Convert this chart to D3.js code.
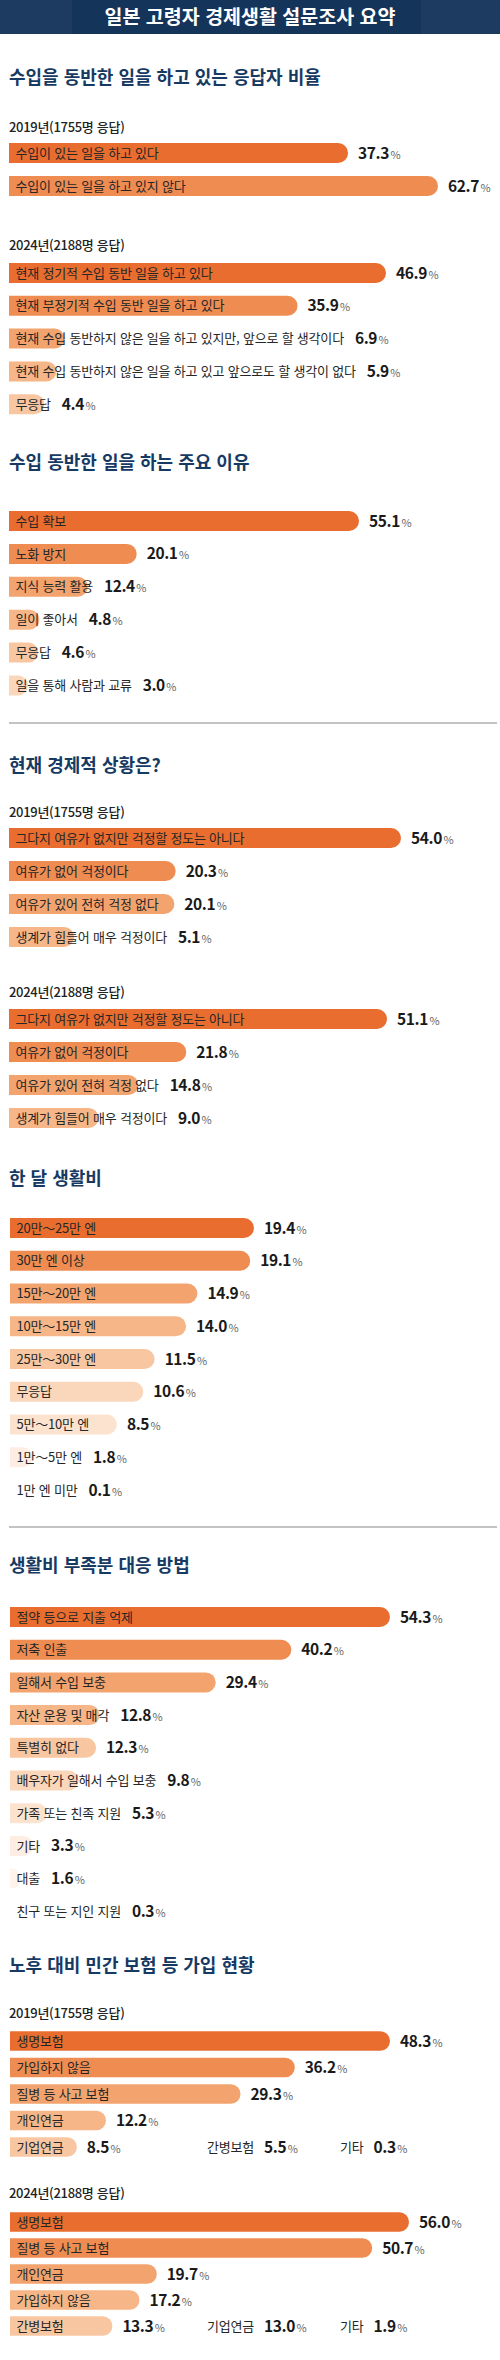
<!DOCTYPE html>
<html lang="ko">
<head>
<meta charset="utf-8">
<script src="https://cdn.jsdelivr.net/npm/d3@7/dist/d3.min.js"></script>
<style>
  html, body { margin: 0; padding: 0; background: #ffffff; }
  svg { display: block; font-family: "Noto Sans CJK KR", "Noto Sans", sans-serif; }
</style>
</head>
<body>
<script>
// ---------------- DATA ----------------
const mainTitle = "일본 고령자 경제생활 설문조사 요약";
const sectionTitles = [
  "수입을 동반한 일을 하고 있는 응답자 비율",
  "수입 동반한 일을 하는 주요 이유",
  "현재 경제적 상황은?",
  "한 달 생활비",
  "생활비 부족분 대응 방법",
  "노후 대비 민간 보험 등 가입 현황"
];
const label2019 = "2019년(1755명 응답)";
const label2024 = "2024년(2188명 응답)";

const workCats2019 = ["수입이 있는 일을 하고 있다", "수입이 있는 일을 하고 있지 않다"];
const workVals2019 = [37.3, 62.7];

const workCats2024 = [
  "현재 정기적 수입 동반 일을 하고 있다",
  "현재 부정기적 수입 동반 일을 하고 있다",
  "현재 수입 동반하지 않은 일을 하고 있지만, 앞으로 할 생각이다",
  "현재 수입 동반하지 않은 일을 하고 있고 앞으로도 할 생각이 없다",
  "무응답"
];
const workVals2024 = [46.9, 35.9, 6.9, 5.9, 4.4];

const reasonCats = ["수입 확보", "노화 방지", "지식 능력 활용", "일이 좋아서", "무응답", "일을 통해 사람과 교류"];
const reasonVals = [55.1, 20.1, 12.4, 4.8, 4.6, 3.0];

const econCats = ["그다지 여유가 없지만 걱정할 정도는 아니다", "여유가 없어 걱정이다", "여유가 있어 전혀 걱정 없다", "생계가 힘들어 매우 걱정이다"];
const econVals2019 = [54.0, 20.3, 20.1, 5.1];
const econVals2024 = [51.1, 21.8, 14.8, 9.0];

const costCats = ["20만～25만 엔", "30만 엔 이상", "15만～20만 엔", "10만～15만 엔", "25만～30만 엔", "무응답", "5만～10만 엔", "1만～5만 엔", "1만 엔 미만"];
const costVals = [19.4, 19.1, 14.9, 14.0, 11.5, 10.6, 8.5, 1.8, 0.1];

const shortCats = ["절약 등으로 지출 억제", "저축 인출", "일해서 수입 보충", "자산 운용 및 매각", "특별히 없다", "배우자가 일해서 수입 보충", "가족 또는 친족 지원", "기타", "대출", "친구 또는 지인 지원"];
const shortVals = [54.3, 40.2, 29.4, 12.8, 12.3, 9.8, 5.3, 3.3, 1.6, 0.3];

const insCats2019 = ["생명보험", "가입하지 않음", "질병 등 사고 보험", "개인연금", "기업연금"];
const insVals2019 = [48.3, 36.2, 29.3, 12.2, 8.5];
const insExtraCats2019 = ["간병보험", "기타"];
const insExtraVals2019 = [5.5, 0.3];

const insCats2024 = ["생명보험", "질병 등 사고 보험", "개인연금", "가입하지 않음", "간병보험"];
const insVals2024 = [56.0, 50.7, 19.7, 17.2, 13.3];
const insExtraCats2024 = ["기업연금", "기타"];
const insExtraVals2024 = [13.0, 1.9];

// ---------------- STYLE / LAYOUT ----------------
const W = 500, H = 2360;
const palette = ["#E96D2F", "#EF8C52", "#F3A36E", "#F6B687", "#F8C7A2", "#FAD6BB", "#FCE3D0", "#FDEDE2", "#FEF4EC", "#FFF8F3"];
const navy = "#173A63";

const layout = [
  { type: "title", text: sectionTitles[0], y: 77 },
  { type: "group", label: label2019, labelY: 127, cats: workCats2019, vals: workVals2019, y0: 153, pitch: 33, range: [207, 429], x0: 9 },
  { type: "group", label: label2024, labelY: 245, cats: workCats2024, vals: workVals2024, y0: 273, pitch: 32.8, range: [0, 377], x0: 9 },
  { type: "title", text: sectionTitles[1], y: 462 },
  { type: "group", cats: reasonCats, vals: reasonVals, y0: 521, pitch: 32.9, range: [0, 350], x0: 9 },
  { type: "sep", y: 723 },
  { type: "title", text: sectionTitles[2], y: 765 },
  { type: "group", label: label2019, labelY: 812, cats: econCats, vals: econVals2019, y0: 838, pitch: 33, range: [31, 392], x0: 9 },
  { type: "group", label: label2024, labelY: 992, cats: econCats, vals: econVals2024, y0: 1019, pitch: 33, range: [28, 378], x0: 9 },
  { type: "title", text: sectionTitles[3], y: 1178 },
  { type: "group", cats: costCats, vals: costVals, y0: 1228, pitch: 32.75, range: [0, 244], x0: 10 },
  { type: "sep", y: 1527 },
  { type: "title", text: sectionTitles[4], y: 1565 },
  { type: "group", cats: shortCats, vals: shortVals, y0: 1617, pitch: 32.7, range: [0, 380], x0: 10 },
  { type: "title", text: sectionTitles[5], y: 1965 },
  { type: "group", label: label2019, labelY: 2013, cats: insCats2019, vals: insVals2019, y0: 2041, pitch: 26.5, range: [0, 380], x0: 10, barH: 19.5,
    extraCats: insExtraCats2019, extraVals: insExtraVals2019 },
  { type: "group", label: label2024, labelY: 2193, cats: insCats2024, vals: insVals2024, y0: 2222, pitch: 26, range: [10, 399], x0: 10, barH: 19.5,
    extraCats: insExtraCats2024, extraVals: insExtraVals2024 }
];
const extraColumns = [207, 340];

// ---------------- DRAW ----------------
const svg = d3.select("body").append("svg").attr("width", W).attr("height", H);
svg.append("rect").attr("width", W).attr("height", H).attr("fill", "#ffffff");

// header
svg.append("rect").attr("x", 0).attr("y", 0).attr("width", W).attr("height", 34).attr("fill", "#1D3B60");
svg.append("rect").attr("x", 72).attr("y", 0).attr("width", 349).attr("height", 34).attr("fill", "#15345A");
svg.append("text").attr("x", W / 2).attr("y", 24).attr("text-anchor", "middle")
  .attr("fill", "#ffffff").attr("font-size", 19.5).attr("font-weight", 700)
  .text(mainTitle);

function barPath(x0, w, cy, h) {
  const r = h / 2, t = cy - r, b = cy + r;
  if (w <= 0.01) return "";
  if (w >= r) {
    return `M${x0},${t}L${x0 + w - r},${t}A${r},${r} 0 0 1 ${x0 + w - r},${b}L${x0},${b}Z`;
  }
  return `M${x0},${t}A${w},${r} 0 0 1 ${x0},${b}Z`;
}

function drawValue(g, x, cy, v) {
  const t = g.append("text").attr("x", x).attr("y", cy + 5.5).attr("fill", "#1a1a1a");
  t.append("tspan").attr("font-size", 15.5).attr("font-weight", 700).attr("letter-spacing", -0.4)
    .text(v.toFixed(1));
  t.append("tspan").attr("font-size", 11).attr("fill", "#666").attr("dx", 1.5).text("%");
}

layout.forEach(item => {
  if (item.type === "title") {
    svg.append("text").attr("x", 9).attr("y", item.y + 6.5)
      .attr("fill", navy).attr("font-size", 18).attr("font-weight", 700)
      .text(item.text);
  } else if (item.type === "sep") {
    svg.append("line").attr("x1", 9).attr("x2", 497).attr("y1", item.y).attr("y2", item.y)
      .attr("stroke", "#AFAFAF").attr("stroke-width", 1.5);
  } else if (item.type === "group") {
    const g = svg.append("g");
    const n = item.cats.length;
    const barH = item.barH || 20;
    if (item.label) {
      g.append("text").attr("x", 9).attr("y", item.labelY + 4.5)
        .attr("fill", "#222").attr("font-size", 13).attr("font-weight", 500).attr("letter-spacing", -0.3)
        .text(item.label);
    }
    const x = d3.scaleLinear().domain([0, d3.max(item.vals)]).range(item.range);
    const y = d3.scaleBand().domain(d3.range(n))
      .range([item.y0 - item.pitch / 2, item.y0 - item.pitch / 2 + item.pitch * n]).padding(0);
    const rows = item.cats.map((c, i) => ({ c, v: item.vals[i], i }));
    rows.forEach(d => {
      const cy = y(d.i) + y.bandwidth() / 2;
      const w = d.v < 1 ? 0 : x(d.v);
      g.append("path").attr("d", barPath(item.x0, w, cy, barH)).attr("fill", palette[d.i]);
      const lbl = g.append("text").attr("x", item.x0 + 6.5).attr("y", cy + 4.6)
        .attr("fill", "#262626").attr("font-size", 13).attr("letter-spacing", -0.2)
        .text(d.c);
      const textEnd = item.x0 + 6.5 + lbl.node().getComputedTextLength();
      const vx = Math.max(item.x0 + w + 10, textEnd + 11);
      drawValue(g, vx, cy, d.v);
    });
    if (item.extraCats) {
      const cy = y(n - 1) + y.bandwidth() / 2;
      item.extraCats.forEach((c, k) => {
        const lbl = g.append("text").attr("x", extraColumns[k]).attr("y", cy + 4.6)
          .attr("fill", "#262626").attr("font-size", 13).attr("letter-spacing", -0.2).text(c);
        const textEnd = extraColumns[k] + lbl.node().getComputedTextLength();
        drawValue(g, textEnd + 10, cy, item.extraVals[k]);
      });
    }
  }
});
</script>
</body>
</html>
